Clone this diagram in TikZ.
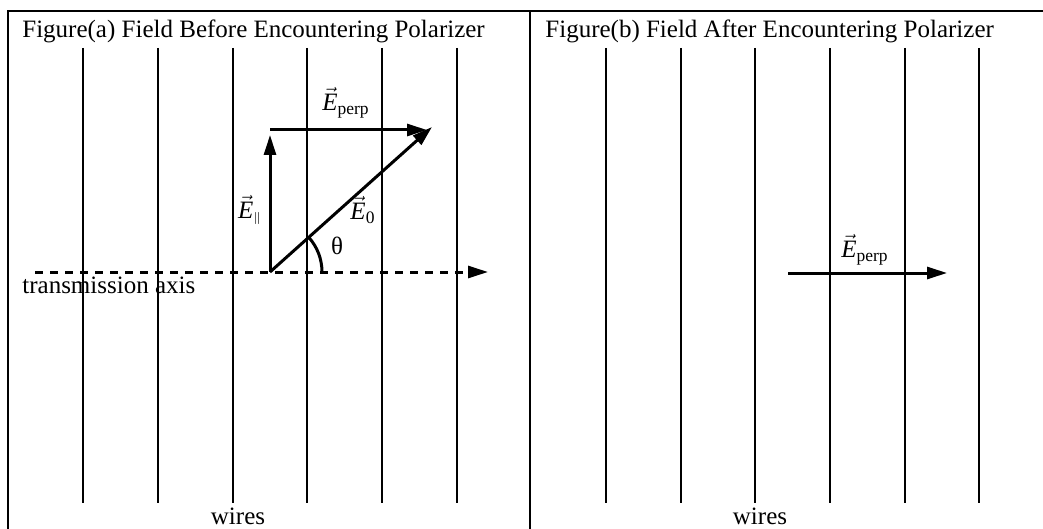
\documentclass[tikz,border=0pt]{standalone}
\usepackage{amsmath}
\usepackage{fontspec}
\setmainfont{Liberation Serif}
\usetikzlibrary{arrows.meta}
\newcommand{\fieldE}{\vec{\textit{E}}}

\begin{document}
\begin{tikzpicture}[
  x=0.5pt, y=-0.5pt,
  frame/.style={line width=1.2pt},
  wire/.style={line width=1.1pt},
  field/.style={-{Triangle[length=10pt,width=6pt]}, line width=1.5pt},
  axisline/.style={field, dash pattern=on 4pt off 3.5pt},
  lbl/.style={font=\fontsize{12.5}{14}\selectfont, inner sep=0pt},
  ttl/.style={lbl, anchor=west}
]
\useasboundingbox (0,0) rectangle (1043,529);

% ===== Frame and wires =====
\draw[frame] (8,529) -- (8,11) -- (1043,11);
\draw[frame] (530,11) -- (530,529);
\foreach \x in {83,158,233,307,382,457,606,681,755,830,905,979}
  \draw[wire] (\x,48) -- (\x,503);

% ===== Left panel: before the polarizer =====
\node[ttl] (ta) at (22,31) {Figure(a) Field Before Encountering Polarizer};
\node[lbl, anchor=base] (wa) at (238,524) {wires};
\node[lbl, anchor=base west] (tax) at (22,293) {transmission axis};

\coordinate (o) at (270,272);
\coordinate (axend) at (488,272);
\coordinate (axstart) at (35,272);
\coordinate (e0) at (432,127);
\coordinate (epar) at (270,135);
\coordinate (pstart) at (270,130);
\coordinate (pend) at (427,130);

\draw[axisline] (axstart) -- (axend);
\draw[field] (o) -- (e0);
\draw[field] (o) -- (epar);
\draw[field] (pstart) -- (pend);
\draw[line width=1.5pt] (o) ++(52,0) arc[start angle=0, end angle=-41.8, radius=52];

\node[lbl] (lperp) at (346,103) {$\fieldE_{\text{perp}}$};
\node[lbl] (lpar) at (250,210) {$\fieldE_{\scriptscriptstyle\parallel}$};
\node[lbl] (lzero) at (363,210) {$\fieldE_{\text{0}}$};
\node[lbl] (lth) at (337,246) {θ};

% ===== Right panel: after the polarizer =====
\node[ttl] (tb) at (545,31) {Figure(b) Field After Encountering Polarizer};
\node[lbl, anchor=base] (wb) at (760,524) {wires};

\coordinate (qstart) at (788,273);
\coordinate (qend) at (947,273);
\draw[field] (qstart) -- (qend);
\node[lbl] (rperp) at (865,250) {$\fieldE_{\text{perp}}$};

\end{tikzpicture}
\end{document}
